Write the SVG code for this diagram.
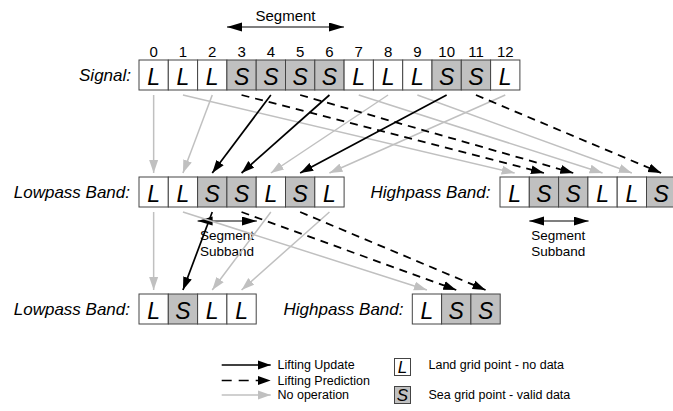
<svg xmlns="http://www.w3.org/2000/svg" width="673" height="411" viewBox="0 0 673 411">
<style>
text{font-family:"Liberation Sans",Arial,Helvetica,sans-serif;fill:#000}
.cl{fill:#fff;stroke:#444;stroke-width:1}
.cs{fill:#c0c0c0;stroke:#444;stroke-width:1}
.g{font-size:23px;font-style:italic;text-anchor:middle}
.lbl{font-size:17px;font-style:italic;text-anchor:end}
.idx{font-size:15px;text-anchor:middle}
.seg{font-size:15px;text-anchor:middle}
.sub{font-size:13.5px;text-anchor:middle}
.leg{font-size:12.5px}
.lg{font-size:17px;font-style:italic;text-anchor:middle}
.up{stroke:#000;stroke-width:1.7;fill:none;marker-end:url(#ab)}
.pr{stroke:#000;stroke-width:1.8;stroke-dasharray:8 6;fill:none;marker-end:url(#ab)}
.no{stroke:#c0c0c0;stroke-width:1.5;fill:none;marker-end:url(#ag)}
.dbl{stroke:#000;stroke-width:1.2;fill:none;marker-start:url(#as);marker-end:url(#as)}
</style>
<defs>
<marker id="ab" markerUnits="userSpaceOnUse" markerWidth="14" markerHeight="10" refX="13" refY="5" orient="auto" viewBox="0 0 14 10"><path d="M0,0.5 L13,5 L0,9.5 z" fill="#000"/></marker>
<marker id="ag" markerUnits="userSpaceOnUse" markerWidth="14" markerHeight="10" refX="13" refY="5" orient="auto" viewBox="0 0 14 10"><path d="M0,0.5 L13,5 L0,9.5 z" fill="#c0c0c0"/></marker>
<marker id="as" markerUnits="userSpaceOnUse" markerWidth="16" markerHeight="10" refX="15" refY="4.5" orient="auto-start-reverse" viewBox="0 0 16 10"><path d="M0,0 L15,4.5 L0,9 z" fill="#000"/></marker>
</defs>

<!-- Row labels -->
<text class="lbl" x="131" y="81">Signal:</text>
<text class="lbl" x="130" y="198">Lowpass Band:</text>
<text class="lbl" x="490.5" y="198">Highpass Band:</text>
<text class="lbl" x="130" y="315">Lowpass Band:</text>
<text class="lbl" x="403.5" y="315">Highpass Band:</text>

<!-- Indices -->
<g id="indices">
<text class="idx" x="153.65" y="56.5">0</text>
<text class="idx" x="182.95" y="56.5">1</text>
<text class="idx" x="212.25" y="56.5">2</text>
<text class="idx" x="241.55" y="56.5">3</text>
<text class="idx" x="270.85" y="56.5">4</text>
<text class="idx" x="300.15" y="56.5">5</text>
<text class="idx" x="329.45" y="56.5">6</text>
<text class="idx" x="358.75" y="56.5">7</text>
<text class="idx" x="388.05" y="56.5">8</text>
<text class="idx" x="417.35" y="56.5">9</text>
<text class="idx" x="446.65" y="56.5">10</text>
<text class="idx" x="475.95" y="56.5">11</text>
<text class="idx" x="505.25" y="56.5">12</text>
</g>

<!-- Signal -->
<g id="sig-0"><rect class="cl" x="139" y="60" width="29.3" height="30"/><text class="g" x="153.65" y="85">L</text></g>
<g id="sig-1"><rect class="cl" x="168.3" y="60" width="29.3" height="30"/><text class="g" x="182.95" y="85">L</text></g>
<g id="sig-2"><rect class="cl" x="197.6" y="60" width="29.3" height="30"/><text class="g" x="212.25" y="85">L</text></g>
<g id="sig-3"><rect class="cs" x="226.9" y="60" width="29.3" height="30"/><text class="g" x="241.55" y="85">S</text></g>
<g id="sig-4"><rect class="cs" x="256.2" y="60" width="29.3" height="30"/><text class="g" x="270.85" y="85">S</text></g>
<g id="sig-5"><rect class="cs" x="285.5" y="60" width="29.3" height="30"/><text class="g" x="300.15" y="85">S</text></g>
<g id="sig-6"><rect class="cs" x="314.8" y="60" width="29.3" height="30"/><text class="g" x="329.45" y="85">S</text></g>
<g id="sig-7"><rect class="cl" x="344.1" y="60" width="29.3" height="30"/><text class="g" x="358.75" y="85">L</text></g>
<g id="sig-8"><rect class="cl" x="373.4" y="60" width="29.3" height="30"/><text class="g" x="388.05" y="85">L</text></g>
<g id="sig-9"><rect class="cl" x="402.7" y="60" width="29.3" height="30"/><text class="g" x="417.35" y="85">L</text></g>
<g id="sig-10"><rect class="cs" x="432" y="60" width="29.3" height="30"/><text class="g" x="446.65" y="85">S</text></g>
<g id="sig-11"><rect class="cs" x="461.3" y="60" width="29.3" height="30"/><text class="g" x="475.95" y="85">S</text></g>
<g id="sig-12"><rect class="cl" x="490.6" y="60" width="29.3" height="30"/><text class="g" x="505.25" y="85">L</text></g>

<!-- Lowpass 1 -->
<g id="lp1-0"><rect class="cl" x="139" y="177" width="29.3" height="30"/><text class="g" x="153.65" y="202">L</text></g>
<g id="lp1-1"><rect class="cl" x="168.3" y="177" width="29.3" height="30"/><text class="g" x="182.95" y="202">L</text></g>
<g id="lp1-2"><rect class="cs" x="197.6" y="177" width="29.3" height="30"/><text class="g" x="212.25" y="202">S</text></g>
<g id="lp1-3"><rect class="cs" x="226.9" y="177" width="29.3" height="30"/><text class="g" x="241.55" y="202">S</text></g>
<g id="lp1-4"><rect class="cl" x="256.2" y="177" width="29.3" height="30"/><text class="g" x="270.85" y="202">L</text></g>
<g id="lp1-5"><rect class="cs" x="285.5" y="177" width="29.3" height="30"/><text class="g" x="300.15" y="202">S</text></g>
<g id="lp1-6"><rect class="cl" x="314.8" y="177" width="29.3" height="30"/><text class="g" x="329.45" y="202">L</text></g>

<!-- Highpass 1 -->
<g id="hp1-0"><rect class="cl" x="500" y="177" width="29.3" height="30"/><text class="g" x="514.65" y="202">L</text></g>
<g id="hp1-1"><rect class="cs" x="529.3" y="177" width="29.3" height="30"/><text class="g" x="543.95" y="202">S</text></g>
<g id="hp1-2"><rect class="cs" x="558.6" y="177" width="29.3" height="30"/><text class="g" x="573.25" y="202">S</text></g>
<g id="hp1-3"><rect class="cl" x="587.9" y="177" width="29.3" height="30"/><text class="g" x="602.55" y="202">L</text></g>
<g id="hp1-4"><rect class="cl" x="617.2" y="177" width="29.3" height="30"/><text class="g" x="631.85" y="202">L</text></g>
<g id="hp1-5"><rect class="cs" x="646.5" y="177" width="29.3" height="30"/><text class="g" x="661.15" y="202">S</text></g>

<!-- Lowpass 2 -->
<g id="lp2-0"><rect class="cl" x="139" y="294" width="29.3" height="30"/><text class="g" x="153.65" y="319">L</text></g>
<g id="lp2-1"><rect class="cs" x="168.3" y="294" width="29.3" height="30"/><text class="g" x="182.95" y="319">S</text></g>
<g id="lp2-2"><rect class="cl" x="197.6" y="294" width="29.3" height="30"/><text class="g" x="212.25" y="319">L</text></g>
<g id="lp2-3"><rect class="cl" x="226.9" y="294" width="29.3" height="30"/><text class="g" x="241.55" y="319">L</text></g>

<!-- Highpass 2 -->
<g id="hp2-0"><rect class="cl" x="412.3" y="294" width="29.3" height="30"/><text class="g" x="426.95" y="319">L</text></g>
<g id="hp2-1"><rect class="cs" x="441.6" y="294" width="29.3" height="30"/><text class="g" x="456.25" y="319">S</text></g>
<g id="hp2-2"><rect class="cs" x="470.9" y="294" width="29.3" height="30"/><text class="g" x="485.55" y="319">S</text></g>

<!-- Segment annotations -->
<g id="segment">
<text class="seg" x="285.5" y="21">Segment</text>
<line class="dbl" x1="227" y1="27" x2="344" y2="27"/>
</g>
<g id="subband-lp">
<text class="sub" x="227" y="240">Segment</text>
<text class="sub" x="227" y="255.5">Subband</text>
<line class="dbl" x1="197.6" y1="221" x2="256.9" y2="221"/>
</g>
<g id="subband-hp">
<text class="sub" x="558.3" y="240">Segment</text>
<text class="sub" x="558.3" y="255.5">Subband</text>
<line class="dbl" x1="529.3" y1="221" x2="588.6" y2="221"/>
</g>

<!-- Connectors -->
<g id="connectors">
<line class="no" x1="153.65" y1="95" x2="153.65" y2="173"/>
<line class="no" x1="212.25" y1="95" x2="182.95" y2="173"/>
<line class="no" x1="388.05" y1="95" x2="270.85" y2="173"/>
<line class="no" x1="505.25" y1="95" x2="329.45" y2="173"/>
<line class="no" x1="182.95" y1="95" x2="514.65" y2="173"/>
<line class="no" x1="358.75" y1="95" x2="602.55" y2="173"/>
<line class="no" x1="417.35" y1="95" x2="631.85" y2="173"/>
<line class="pr" x1="241.55" y1="95" x2="543.95" y2="173"/>
<line class="pr" x1="300.15" y1="95" x2="573.25" y2="173"/>
<line class="pr" x1="475.95" y1="95" x2="661.15" y2="173"/>
<line class="up" x1="270.85" y1="95" x2="212.25" y2="173"/>
<line class="up" x1="329.45" y1="95" x2="241.55" y2="173"/>
<line class="up" x1="446.65" y1="95" x2="300.15" y2="173"/>
<line class="no" x1="153.65" y1="212" x2="153.65" y2="290"/>
<line class="up" x1="212.25" y1="212" x2="182.95" y2="290"/>
<line class="no" x1="270.85" y1="212" x2="212.25" y2="290"/>
<line class="no" x1="329.45" y1="212" x2="241.55" y2="290"/>
<line class="no" x1="182.95" y1="212" x2="426.95" y2="290"/>
<line class="pr" x1="241.55" y1="212" x2="456.25" y2="290"/>
<line class="pr" x1="300.15" y1="212" x2="485.55" y2="290"/>
</g>

<!-- Legend -->
<g id="legend">
<line class="up" x1="221.7" y1="365" x2="270.7" y2="365"/>
<line class="pr" x1="221.7" y1="380.5" x2="270.7" y2="380.5" style="stroke-dasharray:10 7;stroke-width:1.4"/>
<line class="no" x1="221.7" y1="395" x2="270.7" y2="395"/>
<text class="leg" x="277.5" y="369">Lifting Update</text>
<text class="leg" x="277.5" y="384.5">Lifting Prediction</text>
<text class="leg" x="277.5" y="399">No operation</text>
<rect class="cl" x="394.5" y="358.5" width="16" height="17"/>
<text class="lg" x="402.5" y="373">L</text>
<rect class="cs" x="394.5" y="386.5" width="16" height="17"/>
<text class="lg" x="402.5" y="401">S</text>
<text class="leg" x="428.5" y="369">Land grid point - no data</text>
<text class="leg" x="428.5" y="399">Sea grid point - valid data</text>
</g>
</svg>
